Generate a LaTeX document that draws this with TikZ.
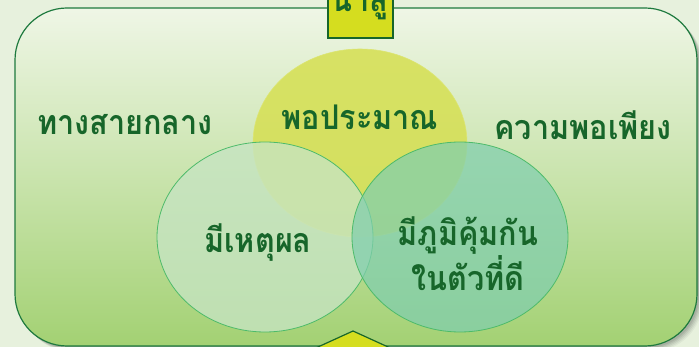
\documentclass[tikz,border=0pt]{standalone}
\usepackage{fontspec}
\newfontfamily\thaifont[Script=Thai, FakeStretch=0.9]{Loma}
\definecolor{bgout}{HTML}{E7F1DD}
\definecolor{frtop}{HTML}{EFF6E6}
\definecolor{frbot}{HTML}{A3D173}
\definecolor{frline}{HTML}{1E7A3E}
\definecolor{txtg}{HTML}{17662A}
\definecolor{yel}{HTML}{D6E058}
\definecolor{mint}{HTML}{C6E4C2}
\definecolor{teal}{HTML}{80CEAE}
\definecolor{circline}{HTML}{4DBB6A}
\definecolor{boxfill}{HTML}{D5DD1F}
\tikzset{
  lbl/.style={font=\thaifont\bfseries\fontsize{34}{38}\selectfont, text=txtg, align=center},
  circ/.style={draw=circline, line width=0.8pt},
  pointer/.style={fill=boxfill, draw=txtg, line width=1.2pt}
}
\begin{document}
\begin{tikzpicture}[x=1pt,y=-1pt]
\useasboundingbox (0,0) rectangle (699,347);
\clip (0,0) rectangle (699,347);
\fill[bgout] (0,0) rectangle (699,347);
% shadow
\foreach \i/\o in {6/0.04,5/0.05,4/0.06,3/0.07,2/0.08}{
  \fill[black, opacity=\o, rounded corners=52pt] (15+\i,8+\i) rectangle (697+\i,346+\i);
}
% frame
\shade[top color=frtop, bottom color=frbot, rounded corners=52pt] (15,8) rectangle (697,346);
\draw[frline, line width=1.2pt, rounded corners=52pt] (15,8) rectangle (697,346);
% circles
\fill[yel, opacity=0.9] (360,143) ellipse [x radius=107, y radius=94];
\draw[yel!85!white, line width=0.6pt] (360,143) ellipse [x radius=107, y radius=94];
\path[circ, fill=mint, fill opacity=0.78] (265,237) ellipse [x radius=108, y radius=95];
\path[circ, fill=teal, fill opacity=0.72] (460,237) ellipse [x radius=108, y radius=95];
% labels
\node[lbl] (mid) at (125,125) {ทางสายกลาง};
\node[lbl] (suff) at (583,125) {ความพอเพียง};
\node[lbl] (mod) at (360,117) {พอประมาณ};
\node[lbl] (reas) at (258,243) {มีเหตุผล};
\node[lbl, text depth=0pt] (imm) at (468,254) {มีภูมิคุ้มกัน\\ในตัวที่ดี};
% top box
\draw[pointer] (328,-5) rectangle (393,38);
\node[lbl, anchor=base] (lead) at (360,12) {นำสู่};
% bottom arrow
\draw[pointer] (353,331) -- (296,357) -- (410,357) -- cycle;
\end{tikzpicture}
\end{document}
